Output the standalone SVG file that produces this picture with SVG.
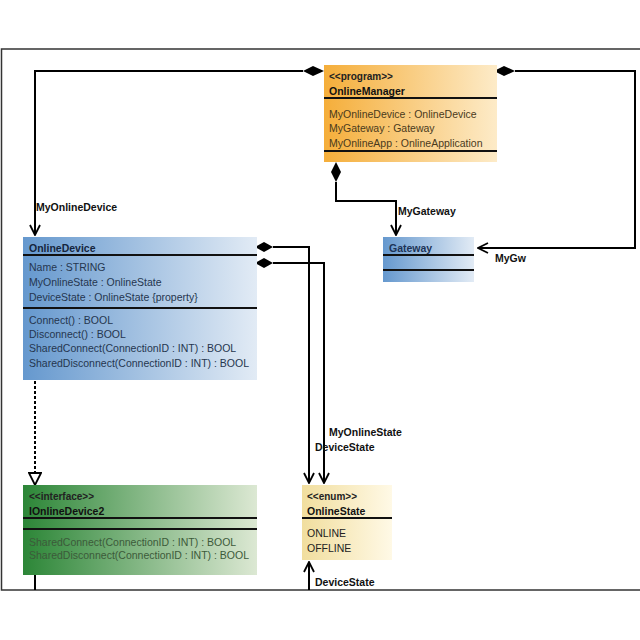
<svg xmlns="http://www.w3.org/2000/svg" width="640" height="640" viewBox="0 0 640 640">
<defs>
<linearGradient id="gOrange" x1="0" y1="0" x2="1" y2="0"><stop offset="0" stop-color="#F5AE3A"/><stop offset="1" stop-color="#FDEBC8"/></linearGradient>
<linearGradient id="gBlue" x1="0" y1="0" x2="1" y2="0"><stop offset="0" stop-color="#6598CE"/><stop offset="1" stop-color="#E2EBF5"/></linearGradient>
<linearGradient id="gGreen" x1="0" y1="0" x2="1" y2="0"><stop offset="0" stop-color="#2C8637"/><stop offset="1" stop-color="#DCE8D3"/></linearGradient>
<linearGradient id="gYellow" x1="0" y1="0" x2="1" y2="0"><stop offset="0" stop-color="#F1DE9E"/><stop offset="1" stop-color="#FFF9E6"/></linearGradient>
<marker id="open" viewBox="0 0 12 12" refX="11" refY="6" markerWidth="12" markerHeight="12" markerUnits="userSpaceOnUse" orient="auto"><path d="M1,1 L11,6 L1,11" fill="none" stroke="#000" stroke-width="1.8"/></marker>
<marker id="tri" viewBox="0 0 14 14" refX="13" refY="7" markerWidth="14" markerHeight="14" markerUnits="userSpaceOnUse" orient="auto"><path d="M1,1 L13,7 L1,13 Z" fill="#fff" stroke="#000" stroke-width="1.8"/></marker>
</defs>
<style>
text{font-family:"Liberation Sans",Arial,sans-serif;font-size:10.5px;fill:#222}
.b{font-weight:bold;fill:#111}
.st{font-weight:bold;font-size:10px;fill:#222}
.lbl{font-weight:bold;font-size:10.5px;fill:#111}
.sep{stroke:#111;stroke-width:2}
.c{fill:none;stroke:#000;stroke-width:2}
.dia{fill:#000}
.om{fill:#4a3a1c}
.od{fill:#25364f}
.gr{fill:#3c5a3a}
</style>
<rect x="1.5" y="49" width="650" height="541" fill="#fff" stroke="#333" stroke-width="1.5"/>
<g id="connectors">
  <path class="c" d="M303,71 H35 V235" marker-end="url(#open)"/>
  <polygon class="dia" points="303,71 313,66 324,71 313,76"/>
  <path class="c" d="M515,71 H635 V248 H478" marker-end="url(#open)"/>
  <polygon class="dia" points="494,71 504,66 515,71 504,76"/>
  <path class="c" d="M336,182 V201 H396 V235" marker-end="url(#open)"/>
  <polygon class="dia" points="336,162 341,172 336,182 331,172"/>
  <path class="c" d="M273,247 H309 V483" marker-end="url(#open)"/>
  <polygon class="dia" points="255,247 264,242 273,247 264,252"/>
  <path class="c" d="M273,263 H324 V483" marker-end="url(#open)"/>
  <polygon class="dia" points="255,263 264,258 273,263 264,268"/>
  <path class="c" d="M309,590 V562" marker-end="url(#open)"/>
  <path d="M35,381 V472" fill="none" stroke="#000" stroke-width="2" stroke-dasharray="3,2"/>
  <path d="M35,472 V485" fill="none" stroke="none" marker-end="url(#tri)"/>
  <path class="c" d="M35,575 V590"/>
  <text class="lbl" x="36" y="211">MyOnlineDevice</text>
  <text class="lbl" x="398" y="215">MyGateway</text>
  <text class="lbl" x="495" y="262">MyGw</text>
  <text class="lbl" x="329" y="436">MyOnlineState</text>
  <text class="lbl" x="315" y="451">DeviceState</text>
  <text class="lbl" x="315" y="586">DeviceState</text>
</g>
<g id="OnlineManager">
  <rect x="324" y="65" width="173" height="97" fill="url(#gOrange)"/>
  <text class="st" x="329" y="80">&lt;&lt;program&gt;&gt;</text>
  <text class="b" x="329" y="95">OnlineManager</text>
  <line class="sep" x1="324" y1="98" x2="497" y2="98"/>
  <text class="om" x="329" y="118">MyOnlineDevice : OnlineDevice</text>
  <text class="om" x="329" y="132">MyGateway : Gateway</text>
  <text class="om" x="329" y="147">MyOnlineApp : OnlineApplication</text>
  <line class="sep" x1="324" y1="151" x2="497" y2="151"/>
</g>
<g id="Gateway">
  <rect x="383" y="237" width="91" height="45" fill="url(#gBlue)"/>
  <text class="b" x="389" y="252" style="fill:#1d3457">Gateway</text>
  <line class="sep" x1="383" y1="255" x2="474" y2="255"/>
  <line class="sep" x1="383" y1="270" x2="474" y2="270"/>
</g>
<g id="OnlineDevice">
  <rect x="23" y="237" width="234" height="143" fill="url(#gBlue)"/>
  <text class="b" x="29" y="252" style="fill:#15253d">OnlineDevice</text>
  <line class="sep" x1="23" y1="255" x2="257" y2="255"/>
  <text class="od" x="29" y="271">Name : STRING</text>
  <text class="od" x="29" y="286">MyOnlineState : OnlineState</text>
  <text class="od" x="29" y="301">DeviceState : OnlineState {property}</text>
  <line class="sep" x1="23" y1="308" x2="257" y2="308"/>
  <text class="od" x="29" y="324">Connect() : BOOL</text>
  <text class="od" x="29" y="338">Disconnect() : BOOL</text>
  <text class="od" x="29" y="352">SharedConnect(ConnectionID : INT) : BOOL</text>
  <text class="od" x="29" y="367">SharedDisconnect(ConnectionID : INT) : BOOL</text>
</g>
<g id="IOnlineDevice2">
  <rect x="23" y="485" width="234" height="90" fill="url(#gGreen)"/>
  <text class="st" x="29" y="500">&lt;&lt;interface&gt;&gt;</text>
  <text class="b" x="29" y="515">IOnlineDevice2</text>
  <line class="sep" x1="23" y1="518" x2="257" y2="518"/>
  <line class="sep" x1="23" y1="529" x2="257" y2="529"/>
  <text class="gr" x="29" y="546">SharedConnect(ConnectionID : INT) : BOOL</text>
  <text class="gr" x="29" y="559">SharedDisconnect(ConnectionID : INT) : BOOL</text>
</g>
<g id="OnlineState">
  <rect x="302" y="485" width="90" height="75" fill="url(#gYellow)"/>
  <text class="st" x="307" y="500">&lt;&lt;enum&gt;&gt;</text>
  <text class="b" x="307" y="515">OnlineState</text>
  <line class="sep" x1="302" y1="518" x2="392" y2="518"/>
  <text x="307" y="537">ONLINE</text>
  <text x="307" y="552">OFFLINE</text>
</g>
</svg>
